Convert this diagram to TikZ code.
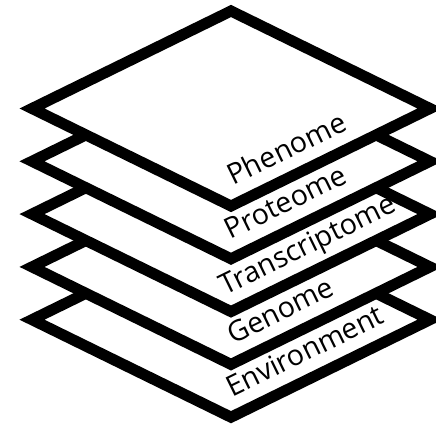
\documentclass[tikz,border=0pt]{standalone}
\usepackage{fontspec}
\setmainfont{Open Sans}
\begin{document}
\begin{tikzpicture}[x=1pt,y=1pt,
  layer/.style={draw=black, fill=white, line width=11pt, line join=miter, miter limit=10},
  layerlabel/.style={font=\fontsize{28.5}{31}\selectfont, anchor=base west, inner sep=0pt, rotate=26.1}]
\clip (0,0) rectangle (436,428);
\fill[white] (0,0) rectangle (436,428);
% stacked layers, drawn from the bottom one up so each covers the one beneath;
% each label sits along the lower right edge of its layer
\foreach \k/\txt/\a in {4/Environment/10,3/Genome/11,2/Transcriptome/2,1/Proteome/8,0/Phenome/11}{
  \pgfmathsetmacro{\cy}{319.5-52.8*\k}
  \pgfmathsetmacro{\lx}{231+0.898*\a-7.48}
  \pgfmathsetmacro{\ly}{\cy-97.5+0.44*\a+15.27}
  \draw[layer] (231,\cy+97.5) -- (430,\cy) -- (231,\cy-97.5) -- (32,\cy) -- cycle;
  \node[layerlabel] (lbl\k) at (\lx,\ly) {\txt};
}
\end{tikzpicture}
\end{document}
